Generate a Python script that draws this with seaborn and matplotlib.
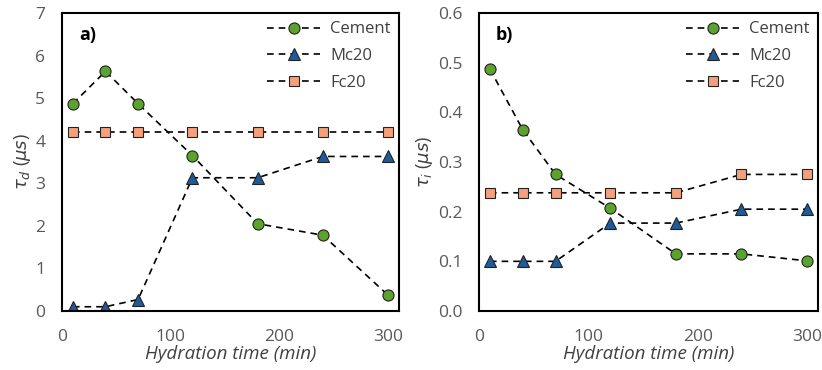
import matplotlib
matplotlib.use("Agg")
import matplotlib.pyplot as plt
import seaborn as sns
import pandas as pd

time_min = [10, 40, 70, 120, 180, 240, 300]
series_names = ["Cement", "Mc20", "Fc20"]
tau_d_cement = [4.87, 5.63, 4.87, 3.65, 2.05, 1.78, 0.37]
tau_d_mc20 = [0.10, 0.10, 0.27, 3.13, 3.13, 3.63, 3.63]
tau_d_fc20 = [4.20, 4.20, 4.20, 4.20, 4.20, 4.20, 4.20]
tau_i_cement = [0.487, 0.365, 0.275, 0.207, 0.115, 0.115, 0.101]
tau_i_mc20 = [0.100, 0.100, 0.100, 0.177, 0.177, 0.205, 0.205]
tau_i_fc20 = [0.238, 0.238, 0.238, 0.238, 0.238, 0.275, 0.275]
yticks_a = [0, 1, 2, 3, 4, 5, 6, 7]
yticks_b = [0.0, 0.1, 0.2, 0.3, 0.4, 0.5, 0.6]
xticks = [0, 100, 200, 300]

sns.set_style("white")
plt.rcParams['font.family'] = ['Open Sans', 'DejaVu Sans']

colors = {"Cement": "#5BA22E", "Mc20": "#1F5B98", "Fc20": "#F4A07C"}
markers = {"Cement": "o", "Mc20": "^", "Fc20": "s"}

def make_df(vals):
    rows = []
    for name, v in zip(series_names, vals):
        for t, y in zip(time_min, v):
            rows.append({"time": t, "value": y, "series": name})
    return pd.DataFrame(rows)

fig = plt.figure(figsize=(8.22, 3.70), dpi=100)
ax1 = fig.add_axes([62/822, 1-311/370, (399-62)/822, (311-13)/370])
ax2 = fig.add_axes([479/822, 1-311/370, (818-479)/822, (311-13)/370])

panels = [
    (ax1, make_df([tau_d_cement, tau_d_mc20, tau_d_fc20]), yticks_a, r"$\tau_d$ ($\mu s$)", "a)", "{:.0f}"),
    (ax2, make_df([tau_i_cement, tau_i_mc20, tau_i_fc20]), yticks_b, r"$\tau_i$ ($\mu s$)", "b)", "{:.1f}"),
]

for ax, df, yt, ylab, tag, fmt in panels:
    for name in series_names:
        sub = df[df["series"] == name]
        sns.lineplot(data=sub, x="time", y="value", ax=ax, color="black",
                     linestyle=(0, (4, 3)), linewidth=1.2, marker=markers[name],
                     markersize=8 if name != "Fc20" else 7.5,
                     markerfacecolor=colors[name], markeredgecolor="#222222",
                     markeredgewidth=0.8, label=name)
    ax.set_xlim(0, 310)
    ax.set_ylim(yt[0], yt[-1])
    ax.set_xticks(xticks)
    ax.set_yticks(yt)
    ax.set_yticklabels([fmt.format(v) for v in yt])
    ax.tick_params(axis="x", length=0, labelsize=12.5, colors="#595959", pad=13)
    ax.tick_params(axis="y", length=0, labelsize=12.5, colors="#595959", pad=12)
    ax.set_xlabel("Hydration time (min)", fontsize=13.5, style="italic", color="#404040", labelpad=0)
    ax.set_ylabel(ylab, fontsize=13, color="#404040", labelpad=2)
    for s in ax.spines.values():
        s.set_visible(True)
        s.set_color("black")
        s.set_linewidth(1.5)
    ax.text(0.05, 0.955, tag, transform=ax.transAxes, fontsize=13, fontweight="bold",
            va="top", ha="left", color="black")
    leg = ax.legend(loc="upper right", frameon=False, fontsize=12, handlelength=3.2,
                    borderaxespad=0.1, labelspacing=0.65, handletextpad=0.6)
    for t in leg.get_texts():
        t.set_color("#404040")

fig.savefig("out.png", dpi=100)
